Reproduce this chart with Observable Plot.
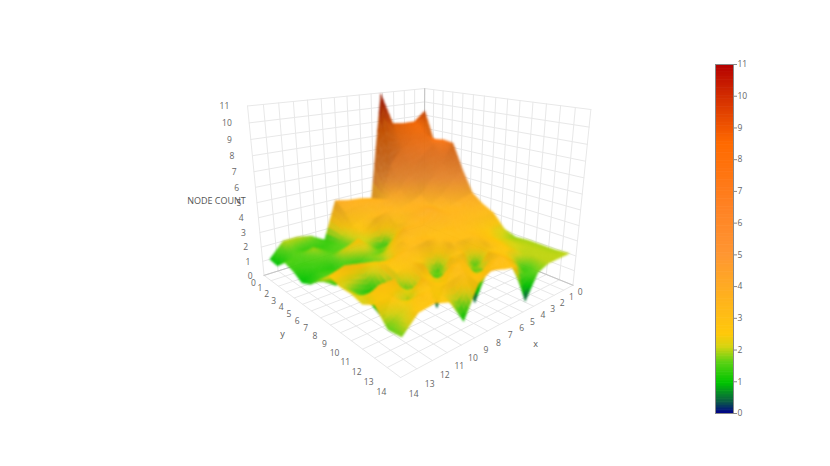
<!DOCTYPE html>
<html><head><meta charset="utf-8">
<style>html,body{margin:0;padding:0;background:#fff;width:830px;height:466px;overflow:hidden}
#main{position:absolute;left:0;top:0}#bar{position:absolute;left:700px;top:54px}</style>
<script src="https://cdn.jsdelivr.net/npm/d3@7"></script>
<script src="https://cdn.jsdelivr.net/npm/@observablehq/plot@0.6"></script>
</head><body><div id="main"></div><div id="bar"></div>
<script>
const gridTicks = d3.range(0, 15);
const countTicks = d3.range(0, 12);
const colorDomain = [0, 0.35, 0.95, 1.6, 2.1, 2.5, 3, 5, 6.5, 8.5, 10, 11];
const colorRange = ["#00008b","#0b5a46","#00c400","#5ad214","#d8d410","#ffc80a","#ffbe14","#ff9632","#ff8224","#ff6a00","#d22c00","#b40000"];
// node count per cell: one row per y sample, one column per x sample
const y0  = [9.3,8.6,8.6,8.7,10.9,3.4,3.6,3.7,3.9,1.2,1.8,2,2,1];
const y1  = [7.2,8,7.5,7,6,3.6,3.6,3.5,3.4,1.4,1.3,1.3,1.6,0.9];
const y2  = [7.4,7.2,6.5,5.5,4.4,3.8,3.4,3,2.6,1.6,1.4,1.9,1.5,1.5];
const y3  = [7.3,6,5,4,3.6,3.4,3.4,3.2,2.4,1.6,1.6,1.6,1.4,1.3];
const y4  = [5.5,4.8,4,3.5,3.6,3.4,2.8,0.9,1.8,2.6,2.2,1.2,1.3,0.9];
const y5  = [4,3.8,3.5,3.4,3.8,3.6,3.2,2.4,1.6,1.8,1.2,1.4,1.5,1.2];
const y6  = [3.4,3.4,3.4,3.4,3.5,3.4,3.3,3.4,2.4,1.7,1.4,1.2,1.2,1.9];
const y7  = [3,3,3.1,3.2,3.2,3,3,3.1,3.1,2,2.4,2.6,2.8,2.5];
const y8  = [2.1,2.3,2.6,2.9,3,3,3,3.2,3.1,3,2.6,1,1.5,2.3];
const y9  = [1.8,2,2.3,2.7,3,3,3.1,1.2,2.4,2.8,2.4,0,1.6,2.3];
const y10 = [1.9,2,2.2,2.6,2.9,1.2,2.8,2.8,0,3,1.2,2.8,2.8,2.1];
const y11 = [1.9,2,2,2.4,2.6,2.9,0,3,3,2.2,3,1.8,2.6,2.5];
const y12 = [1.9,2,2,1.3,2.4,3,3,2.3,3,2.8,2.6,2.8,2.2,1.6];
const y13 = [2,2,2,1.7,0.2,2.7,2.9,3.2,2.7,0.9,2.4,2.7,2.6,1.7];
const rows = [y0,y1,y2,y3,y4,y5,y6,y7,y8,y9,y10,y11,y12,y13];
const sampleStep = 13.5/13;

// camera of the 3D scene
const phi = 49*Math.PI/180, el = 18*Math.PI/180, dist = 4.6, focal = 530, cx = 415, cy = 198, hw = 0.785;
const eye = [Math.cos(phi)*Math.cos(el)*dist, Math.sin(phi)*Math.cos(el)*dist, Math.sin(el)*dist];
const un = v => (v-7)/7, wn = v => (v-5.5)/5.5*hw;
function depth(x,y,z){const u=un(x),v=un(y),w=wn(z);return Math.hypot(u-eye[0],v-eye[1],w-eye[2]);}
function project(x,y,z){
  const u=un(x),v=un(y),w=wn(z);
  const a=u*Math.cos(phi)+v*Math.sin(phi), r=-u*Math.sin(phi)+v*Math.cos(phi);
  const s=dist-(a*Math.cos(el)+w*Math.sin(el)), t=w*Math.cos(el)-a*Math.sin(el);
  return [cx+focal*r/s, cy-focal*t/s];
}
const lineGeo = pts => ({type:"LineString",coordinates:pts.map(p=>project(...p))});
const grid=[];
for(const k of gridTicks){
  grid.push(lineGeo([[k,0,0],[k,14,0]]), lineGeo([[0,k,0],[14,k,0]]));
  grid.push(lineGeo([[k,0,0],[k,0,11]]), lineGeo([[0,k,0],[0,k,11]]));
}
for(const k of countTicks){grid.push(lineGeo([[0,0,k],[14,0,k]]), lineGeo([[0,0,k],[0,14,k]]));}
const strong=[lineGeo([[0,0,0],[14,0,0]]),lineGeo([[0,0,0],[0,14,0]]),lineGeo([[0,0,0],[0,0,11]])];

const colorOpt={type:"linear",domain:colorDomain,range:colorRange,interpolate:"rgb"};
const colorScale=Plot.scale({color:colorOpt});

// surface drawn as small facets, far ones first
const nx=rows[0].length-1, ny=rows.length-1;
const sub=6, hv=(x,y)=>{const i=Math.min(nx-1,Math.floor(x)),j=Math.min(ny-1,Math.floor(y)),a=x-i,b=y-j;
  return (1-a)*(1-b)*rows[j][i]+a*(1-b)*rows[j][i+1]+(1-a)*b*rows[j+1][i]+a*b*rows[j+1][i+1];};
const facets=[];
for(let j=0;j<ny*sub;j++)for(let i=0;i<nx*sub;i++){
  const x0=i/sub,x1=(i+1)/sub,y0_=j/sub,y1_=(j+1)/sub;
  const c=[[x0,y0_],[x1,y0_],[x1,y1_],[x0,y1_]].map(([x,y])=>[x*sampleStep,y*sampleStep,hv(x,y)]);
  const mx=(x0+x1)/2*sampleStep,my=(y0_+y1_)/2*sampleStep,mz=d3.mean(c,p=>p[2]);
  const gx=((c[1][2]+c[2][2])-(c[0][2]+c[3][2]))/2/(x1-x0)/sampleStep*(7/5.5*hw);
  const gy=((c[2][2]+c[3][2])-(c[0][2]+c[1][2]))/2/(y1_-y0_)/sampleStep*(7/5.5*hw);
  const nl=Math.sqrt(1+gx*gx+gy*gy);
  const poly=c.map(p=>project(...p));poly.push(poly[0]);
  const col=d3.rgb(colorScale.apply(mz)).darker(0.9*(1-1/nl)*Math.min(1,mz/6)).formatRgb();
  facets.push({d:depth(mx,my,mz),col,geometry:{type:"Polygon",coordinates:[poly]}});
}
facets.sort((a,b)=>b.d-a.d);

const yLabels=gridTicks.map(k=>{const [x,y]=project(15.0,k,0);const f=(14-k)/14;return {x:x-2+6*f,y:y+6-3*f,t:k};});
const xLabels=gridTicks.map(k=>{const [x,y]=project(k,15.0,0);const f=(14-k)/14;return {x:x-1-6*f,y:y+6-5*f,t:k};});
const zLabels=countTicks.map(k=>{const [x,y]=project(14.9,-0.9,k);return {x:x-2+(11-k)*0.65,y:y+1,t:k};});
const font="'Open Sans',sans-serif";

document.getElementById("main").append(Plot.plot({
  width:830,height:466,margin:0,style:{background:"transparent",fontFamily:font},
  x:{type:"identity",axis:null},y:{type:"identity",axis:null},
  marks:[
    Plot.geo(grid,{stroke:"#e8e8e8",strokeWidth:1}),
    Plot.geo(strong,{stroke:"#c4c4c4",strokeWidth:1}),
    Plot.geo(facets,{geometry:d=>d.geometry,fill:d=>d.col,stroke:d=>d.col,strokeWidth:0.5,imageFilter:"blur(0.8px)"}),
    Plot.text(yLabels,{x:"x",y:"y",text:"t",fill:"#666",fontSize:8.5}),
    Plot.text(xLabels,{x:"x",y:"y",text:"t",fill:"#666",fontSize:8.5}),
    Plot.text(zLabels,{x:"x",y:"y",text:"t",fill:"#666",fontSize:8.5}),
    Plot.text([{x:216,y:201,t:"NODE COUNT"},{x:282,y:334,t:"y"},{x:535,y:344,t:"x"}],{x:"x",y:"y",text:"t",fill:"#555",fontSize:9})
  ]
}));
const barValues=d3.range(0,11,0.05);
document.getElementById("bar").append(Plot.plot({
  width:60,height:369,marginTop:10,marginBottom:10,marginLeft:15,marginRight:27,style:{background:"transparent",fontFamily:font,fontSize:"8.5px",color:"#666"},
  x:{domain:[0,1],axis:null},y:{domain:[0,11],axis:null},color:colorOpt,
  marks:[
    Plot.rect(barValues,{x1:0,x2:1,y1:d=>d,y2:d=>Math.min(11,d+0.07),fill:d=>d+0.025,inset:0}),
    Plot.frame({stroke:"#888",strokeWidth:1}),
    Plot.axisY({anchor:"right",ticks:countTicks,tickSize:3,tickPadding:1,stroke:"#888",fill:"#666",label:null,tickFormat:d3.format("d")})
  ]
}));
</script></body></html>
